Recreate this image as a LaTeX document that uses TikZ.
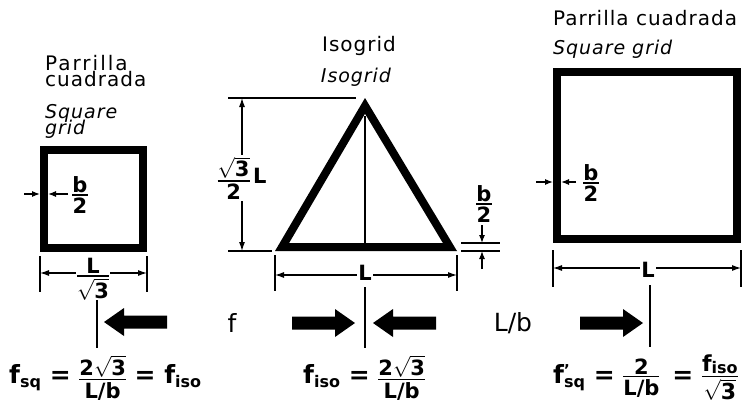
\documentclass[tikz,border=0pt]{standalone}
\usepackage{fontspec}
\setmainfont{DejaVu Sans}
\newfontfamily\labfont{DejaVu Sans}[LetterSpace=5]
\usetikzlibrary{arrows.meta}
\newcommand\fr[3][1.8pt]{\ensuremath{\vcenter{\offinterlineskip\halign{\hfil##\hfil\cr #2\cr\noalign{\kern1.5pt\hrule height #1\kern2pt} #3\cr}}}}
\newcommand\rt[1]{$\sqrt{\hbox{#1}}$}
\newcommand\sbs[1]{\raisebox{-4pt}{\fontsize{16}{16}\selectfont #1}}
\newcommand\sbf[1]{\raisebox{-2pt}{\fontsize{16}{16}\selectfont #1}}
\tikzset{
  x=1pt,y=-1pt,
  lbl/.style={font=\labfont\fontsize{20}{20}\selectfont, inner sep=0pt, anchor=base west},
  ilbl/.style={lbl, font=\labfont\itshape\fontsize{19}{19}\selectfont},
  thin line/.style={line width=1.1pt},
  dimarr/.style={line width=1.1pt, {Latex[length=9pt,width=6pt]}-{Latex[length=9pt,width=6pt]}},
  onearr/.style={line width=1.1pt, -{Latex[length=8pt,width=6pt]}},
  rib/.style={line width=8pt},
  dlab/.style={font=\bfseries\fontsize{21}{21}\selectfont, fill=white, inner sep=1.5pt},
  frm/.style={font=\bfseries\fontsize{25}{25}\selectfont, inner sep=0pt},
  big/.style={font=\fontsize{25}{25}\selectfont, inner sep=0pt},
  larrow/.pic={\fill (0,0) -- (20,14) -- (20,6.5) -- (63,6.5) -- (63,-6.5) -- (20,-6.5) -- (20,-14) -- cycle;},
  rarrow/.pic={\fill (0,0) -- (-20,14) -- (-20,6.5) -- (-63,6.5) -- (-63,-6.5) -- (-20,-6.5) -- (-20,-14) -- cycle;}
}
\begin{document}
\begin{tikzpicture}
\useasboundingbox (0,0) rectangle (748,410);
% ---------- left square ----------
\node[lbl] (t1a) at (45,70) {\addfontfeatures{LetterSpace=10}Parrilla};
\node[lbl] (t1b) at (45,86) {cuadrada};
\node[ilbl] (t1c) at (45,118) {Square};
\node[ilbl] (t1d) at (45,134) {grid};
\draw[rib] (44,150) rectangle (143,248);
\coordinate (l1) at (24,194); \coordinate (l1t) at (40,194);
\coordinate (l2) at (68,194); \coordinate (l2t) at (48,194);
\draw[onearr] (l1) -- (l1t);
\draw[onearr] (l2) -- (l2t);
\node[dlab, fill=none] (lb) at (80,195) {\fr{b}{2}};
\draw[thin line] (40,256) -- (40,292) (147,256) -- (147,292);
\coordinate (la) at (40,273); \coordinate (lbb) at (147,273);
\draw[dimarr] (la) -- (lbb);
\node[dlab] (lL) at (93,279) {\fr{L}{\rt{3}}};
% ---------- triangle ----------
\node[lbl, anchor=base] (t2a) at (359,51) {Isogrid};
\node[ilbl, anchor=base] (t2b) at (356,82) {Isogrid};
\fill[even odd rule] (275,251) -- (457,251) -- (365,98) -- cycle
  (289.1,243) -- (442.9,243) -- (365,113.7) -- cycle;
\draw[thin line] (365,116) -- (365,243);
\draw[thin line] (228,98) -- (356,98) (228,251) -- (272,251);
\coordinate (ha) at (242,98); \coordinate (hb) at (242,251);
\draw[dimarr] (ha) -- (hb);
\node[dlab] (hl) at (242,178) {\fr{\rt{3}}{2}\,L};
\draw[thin line] (275,255) -- (275,291) (457,255) -- (457,291);
\coordinate (ba) at (275,275); \coordinate (bb) at (457,275);
\draw[dimarr] (ba) -- (bb);
\node[dlab] (bL) at (365,273) {L};
\draw[thin line] (461,243) -- (500,243) (461,251) -- (500,251);
\coordinate (r1) at (482,225); \coordinate (r1t) at (482,243);
\coordinate (r2) at (482,269); \coordinate (r2t) at (482,251);
\draw[onearr] (r1) -- (r1t);
\draw[onearr] (r2) -- (r2t);
\node[dlab, fill=none] (rb) at (484,204) {\fr{b}{2}};
% ---------- right square ----------
\node[lbl] (t3a) at (553,25) {Parrilla cuadrada};
\node[ilbl] (t3b) at (553,54) {Square grid};
\draw[rib] (557,72) rectangle (737,239);
\coordinate (q1) at (536,182); \coordinate (q1t) at (553,182);
\coordinate (q2) at (576,182); \coordinate (q2t) at (561,182);
\draw[onearr] (q1) -- (q1t);
\draw[onearr] (q2) -- (q2t);
\node[dlab, fill=none] (qb) at (591,183) {\fr{b}{2}};
\draw[thin line] (553,250) -- (553,287) (741,250) -- (741,287);
\coordinate (qa) at (553,268); \coordinate (qbb) at (741,268);
\draw[dimarr] (qa) -- (qbb);
\node[dlab] (qL) at (648,270) {L};
% ---------- bottom row ----------
\draw[line width=1.3pt] (97,300) -- (97,348);
\draw[line width=1.3pt] (365,287) -- (365,348);
\draw[line width=1.3pt] (650,285) -- (650,347);
\pic at (104,322) {larrow};
\pic at (355,323) {rarrow};
\pic at (373,323) {larrow};
\pic at (643,323) {rarrow};
\node[big] (fx) at (232,323) {f};
\node[big] (lbx) at (513,323) {L/b};
\node[frm, anchor=west] (F1) at (9,378) {f\sbs{sq} = {\fontsize{21}{21}\selectfont\fr{2\rt{3}}{L/b}} = f\sbs{iso}};
\node[frm, anchor=west] (F2) at (303,378) {f\sbs{iso} = {\fontsize{21}{21}\selectfont\fr{2\rt{3}}{L/b}}};
\node[frm, anchor=west] (F3) at (553,378) {f\rlap{\raisebox{8pt}{\fontsize{15}{15}\selectfont'}}\sbs{sq} = {\fontsize{21}{21}\selectfont\fr{2}{L/b}}\, = {\fontsize{22}{22}\selectfont\fr{f\sbf{iso}}{\rt{3}}}};
\end{tikzpicture}
\end{document}
